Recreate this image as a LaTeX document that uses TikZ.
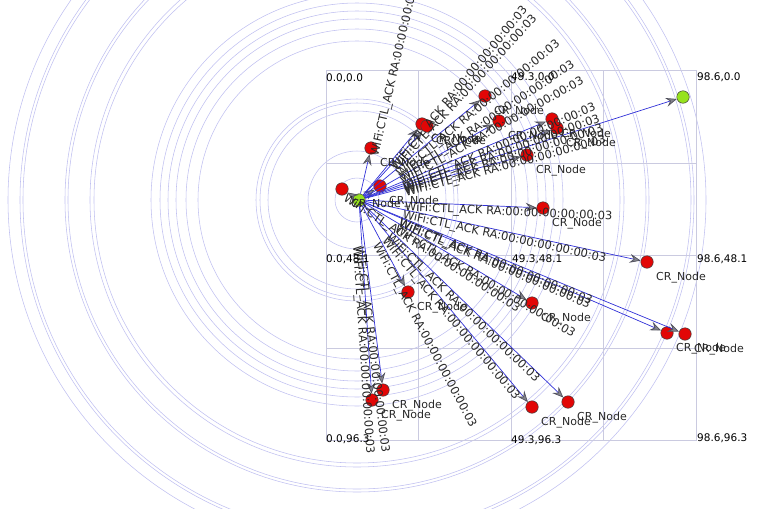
\documentclass[tikz,border=0pt]{standalone}
\usepackage{fontspec}
\setmainfont{DejaVu Sans}
\usetikzlibrary{arrows.meta,calc}
\definecolor{ring}{RGB}{192,192,240}
\definecolor{grd}{RGB}{202,202,224}
\definecolor{wire}{RGB}{48,48,215}
\definecolor{hd}{RGB}{80,80,92}
\definecolor{nred}{RGB}{226,6,6}
\definecolor{ngrn}{RGB}{150,226,30}
\definecolor{txt}{RGB}{40,40,40}
\tikzset{rg/.style={draw=ring,line width=.55pt},gl/.style={draw=grd,line width=.8pt},
 r/.style={circle,draw=black!75,fill=nred,inner sep=0pt,minimum size=12.5pt,line width=.5pt},
 g/.style={circle,draw=black!75,fill=ngrn,inner sep=0pt,minimum size=12.5pt,line width=.5pt},
 pkt/.style={-{Stealth[length=11pt,width=9pt,inset=4pt,color=hd,fill=hd!70]},draw=wire,line width=.7pt},
 ptxt/.style={font=\fontsize{11.5}{13}\selectfont,text=txt,inner sep=0pt,sloped,anchor=north west},
 lbl/.style={font=\fontsize{11}{13}\selectfont,text=txt,inner sep=0pt},
 crd/.style={font=\fontsize{10.5}{12}\selectfont,text=black,inner sep=0pt,anchor=west}}
\begin{document}
\begin{tikzpicture}[x=1pt,y=-1pt]
\useasboundingbox (0,0) rectangle (769,509);
\coordinate (rc) at (357,200);
\foreach \rr in {22,49,89,97,101,159,171,181,189,197,206,263,267,289,292,334,337,349}
 \draw[rg](rc) circle[radius=\rr];
\draw[gl](326,70) rectangle (696,440);
\foreach \x in {418,511,603}\draw[gl](\x,70)--(\x,440);
\foreach \y in {163,255,348}\draw[gl](326,\y)--(696,\y);
\node[g](s) at (359,200){};\node[g](g) at (683,97){};
\node[r](r1) at (342,189){};\node[r](r2) at (371,148){};\node[r](r3) at (380,186){};
\node[r](r4) at (422,124){};\node[r](r5) at (427,126){};\node[r](r6) at (485,96){};
\node[r](r7) at (499,121){};\node[r](r8) at (552,119){};\node[r](r9) at (557,128){};
\node[r](r10) at (527,155){};\node[r](r11) at (543,208){};\node[r](r12) at (408,292){};
\node[r](r13) at (532,303){};\node[r](r14) at (647,262){};\node[r](r15) at (667,333){};
\node[r](r16) at (685,334){};\node[r](r17) at (383,390){};\node[r](r18) at (372,400){};
\node[r](r19) at (532,407){};\node[r](r20) at (568,402){};
\foreach \d in {r1,r2,r3,r4,r5,r6,r7,r8,r9,r10,r11,r12,r13,r14,r15,r16,r17,r18,r19,r20,g}
 \draw[pkt](s)--(\d);
\path(s)--(r1)node[ptxt,pos=1]{WiFi:CTL\_ACK RA:00:00:00:00:00:03};
\foreach \d in {r2,r3,r4,r5,r6,r7,r8,r9,r10,r11,r12,r13,r14,r15,r16,r17,r18,r19,r20,g}
 \path(s)--($(s)!300pt!(\d)$)node[ptxt,pos=.135]{WiFi:CTL\_ACK RA:00:00:00:00:00:03};
\foreach \i in {1,...,20}\node[lbl] at ($(r\i)+(34,16)$){CR\_Node};
\node[crd] at (326,78){0.0,0.0};\node[crd] at (511,77){49.3,0.0};\node[crd] at (697,77){98.6,0.0};
\node[crd] at (326,259){0.0,48.1};\node[crd] at (512,259){49.3,48.1};\node[crd] at (697,259){98.6,48.1};
\node[crd] at (326,439){0.0,96.3};\node[crd] at (511,440){49.3,96.3};\node[crd] at (697,438){98.6,96.3};
\end{tikzpicture}
\end{document}
